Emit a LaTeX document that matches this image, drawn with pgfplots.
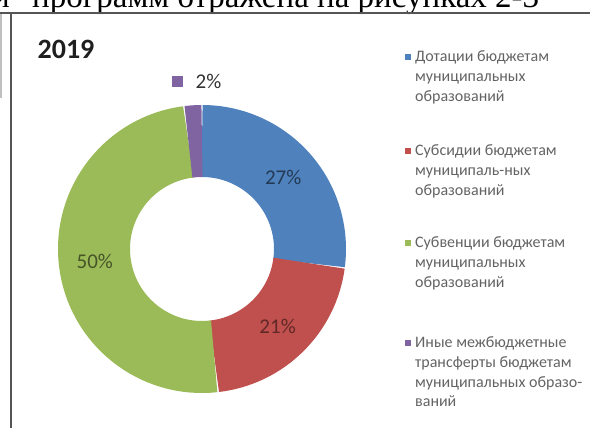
\documentclass[border=0pt]{standalone}
\usepackage{pgfplots}
\pgfplotsset{compat=1.18}
\usepackage{pgfplotstable}
\usepackage{fontspec}
\setmainfont{Liberation Serif}
\newfontfamily\calibri{Carlito}

\definecolor{cblue}{HTML}{4F81BD}
\definecolor{cred}{HTML}{C0504D}
\definecolor{cgreen}{HTML}{9BBB59}
\definecolor{cpurple}{HTML}{8064A2}
\definecolor{legtext}{HTML}{636363}
\definecolor{framec}{HTML}{555555}

% shares of the doughnut, percent (clockwise from 12 o'clock)
\pgfplotstableread{
val
27.1
21.1
49.8
2.0
}\donutdata

\begin{document}
\begin{tikzpicture}
\pgfplotstablegetelem{0}{val}\of\donutdata \pgfmathsetmacro\vA{\pgfplotsretval}
\pgfplotstablegetelem{1}{val}\of\donutdata \pgfmathsetmacro\vB{\pgfplotsretval}
\pgfplotstablegetelem{2}{val}\of\donutdata \pgfmathsetmacro\vC{\pgfplotsretval}
\pgfplotstablegetelem{3}{val}\of\donutdata \pgfmathsetmacro\vD{\pgfplotsretval}
\pgfmathsetmacro\aO{90}
\pgfmathsetmacro\aA{\aO-3.6*\vA}
\pgfmathsetmacro\aB{\aA-3.6*\vB}
\pgfmathsetmacro\aC{\aB-3.6*\vC}
\pgfmathsetmacro\aD{\aC-3.6*\vD}
\pgfmathsetmacro\mA{(\aO+\aA)/2}
\pgfmathsetmacro\mB{(\aA+\aB)/2}
\pgfmathsetmacro\mC{(\aB+\aC)/2}
\path[use as bounding box] (0,0) rectangle (590pt,428pt);
\begin{scope}
\clip (0,0) rectangle (590pt,428pt);
% page text above the chart frame
\node[anchor=base east, font=\fontsize{32}{38}\selectfont, inner sep=0pt] at (10pt,420.7pt) {и};
\node[anchor=base west, font=\fontsize{33}{38}\selectfont, inner sep=0pt] at (32pt,420.7pt) {программ отражена на рисунках 2-3};
\end{scope}
\begin{axis}[at={(0,0)}, anchor=south west, x=1pt, y=1pt,
  xmin=0, xmax=590, ymin=0, ymax=428, hide axis, clip=false]
% doughnut
\draw[cblue, line width=72pt] (axis cs:202,179) ++(\aO:108pt) arc[start angle=\aO, end angle=\aA, radius=108pt];
\draw[cred, line width=72pt] (axis cs:202,179) ++(\aA:108pt) arc[start angle=\aA, end angle=\aB, radius=108pt];
\draw[cgreen, line width=72pt] (axis cs:202,179) ++(\aB:108pt) arc[start angle=\aB, end angle=\aC, radius=108pt];
\draw[cpurple, line width=72pt] (axis cs:202,179) ++(\aC:108pt) arc[start angle=\aC, end angle=\aD, radius=108pt];
% data labels
\path (axis cs:202,179) ++(\mA:108pt) node[font=\calibri\fontsize{21}{25}\selectfont, text=cblue!45!black] {27\%};
\path (axis cs:202,179) ++(\mB:108pt) node[font=\calibri\fontsize{21}{25}\selectfont, text=cred!50!black] {21\%};
\path (axis cs:202,179) ++(\mC:108pt) node[font=\calibri\fontsize{21}{25}\selectfont, text=cgreen!45!black] {50\%};
\fill[cpurple] (axis cs:171.5,340.5) rectangle (axis cs:182.5,351.5);
\node[font=\calibri\fontsize{21}{25}\selectfont, text=black!80] at (axis cs:208.5,347) {2\%};
% title
\node[font=\calibri\bfseries\fontsize{28}{34}\selectfont, text=black!88] at (axis cs:66,379) {2019};
% legend
\tikzset{leg/.style={anchor=base west, inner sep=0pt, font=\calibri\fontsize{16}{19}\selectfont, text=legtext}}
\fill[cblue] (axis cs:404.8,367.8) rectangle (axis cs:411.2,374.2);
\node[leg] at (axis cs:415,366.5) {Дотации бюджетам};
\node[leg] at (axis cs:415,346.7) {муниципальных};
\node[leg] at (axis cs:415,326.9) {образований};
\fill[cred] (axis cs:404.8,273.8) rectangle (axis cs:411.2,280.2);
\node[leg] at (axis cs:415,272.5) {Субсидии бюджетам};
\node[leg] at (axis cs:415,252.7) {муниципаль-ных};
\node[leg] at (axis cs:415,232.9) {образований};
\fill[cgreen] (axis cs:404.8,181.8) rectangle (axis cs:411.2,188.2);
\node[leg] at (axis cs:415,180.5) {Субвенции бюджетам};
\node[leg] at (axis cs:415,160.7) {муниципальных};
\node[leg] at (axis cs:415,140.9) {образований};
\fill[cpurple] (axis cs:404.8,81.8) rectangle (axis cs:411.2,88.2);
\node[leg] at (axis cs:415,80.5) {Иные межбюджетные};
\node[leg] at (axis cs:415,60.7) {трансферты бюджетам};
\node[leg] at (axis cs:415,40.9) {муниципальных образо-};
\node[leg] at (axis cs:415,21.1) {ваний};
\end{axis}
% frame of the chart
\fill[framec] (0pt,414.2pt) rectangle (590pt,416.2pt);
\fill[framec] (9.5pt,0pt) rectangle (11.5pt,416.2pt);
\fill[black!25] (0.3pt,330pt) rectangle (1.5pt,414pt);
\end{tikzpicture}
\end{document}
